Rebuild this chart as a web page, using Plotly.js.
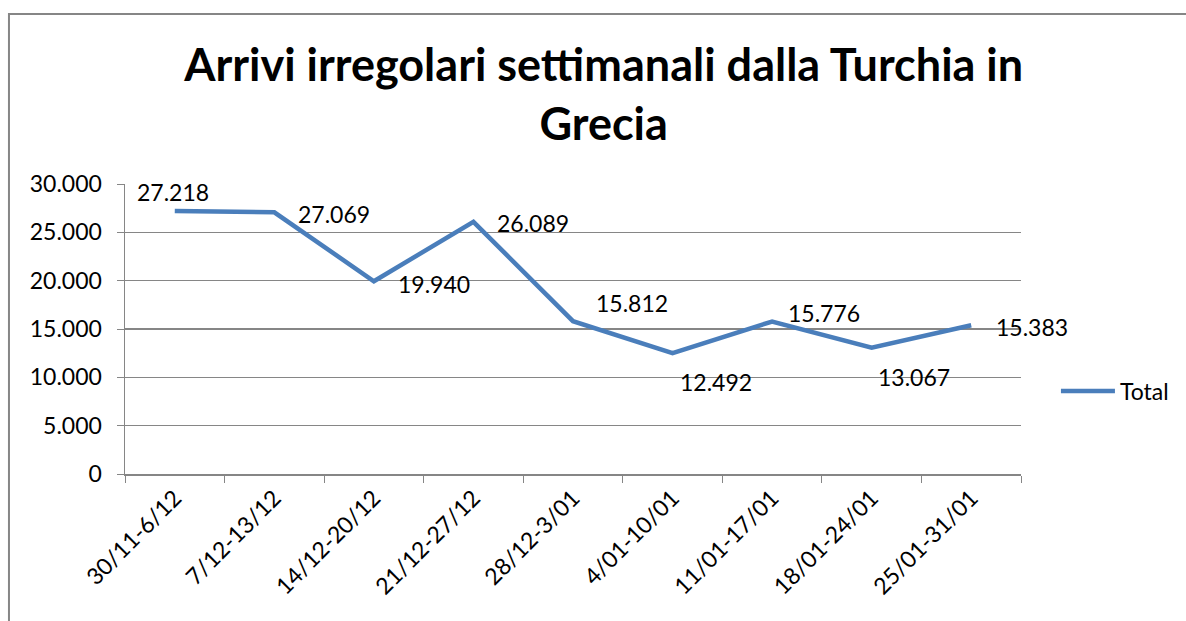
<!DOCTYPE html>
<html>
<head>
<meta charset="utf-8">
<script src="https://cdn.plot.ly/plotly-3.0.1.min.js"></script>
<style>
  html, body { margin: 0; padding: 0; background: #fff; }
  #chart { width: 1186px; height: 621px; }
</style>
</head>
<body>
<div id="chart"></div>
<script>
// weekly irregular arrivals Turkey -> Greece
const weeks = [
    "30/11-6/12", "7/12-13/12", "14/12-20/12", "21/12-27/12", "28/12-3/01",
    "4/01-10/01", "11/01-17/01", "18/01-24/01", "25/01-31/01",
];
const arrivals = [27218, 27069, 19940, 26089, 15812, 12492, 15776, 13067, 15383];

// where each data label sits relative to its point, in px (right, up)
const labelShiftX = [-2, 60, 60, 60, 59, 43, 52, 42, 61];
const labelShiftY = [19, -2, -3, -1, 18, -29, 9, -29, -2];

const font = "Lato, 'Open Sans', sans-serif";
const gridColor = "#868686";

function fmt(v) {
    return String(v).replace(/\B(?=(\d{3})+(?!\d))/g, ".");
}

let trace = {
    type: "scatter",
    mode: "lines",
    name: "Total",
    x: weeks,
    y: arrivals,
    line: { color: "#4A7EBB", width: 4.5 },
    hoverinfo: "x+y",
};

let annotations = arrivals.map((v, i) => ({
    x: weeks[i],
    y: v,
    xref: "x",
    yref: "y",
    text: fmt(v),
    showarrow: false,
    xanchor: "center",
    yanchor: "middle",
    xshift: labelShiftX[i],
    yshift: labelShiftY[i],
    font: { family: font, size: 23, color: "#000" },
}));

let layout = {
    width: 1186,
    height: 621,
    margin: { l: 125, r: 165, t: 184, b: 147, autoexpand: false },
    paper_bgcolor: "#fff",
    plot_bgcolor: "#fff",
    separators: ",.",
    font: { family: font, size: 23, color: "#000" },
    title: {
        text: "<b>Arrivi irregolari settimanali dalla Turchia in<br>Grecia</b>",
        font: { family: font, size: 45, color: "#000" },
        x: 0.509,
        xanchor: "center",
        y: 0.869,
        yanchor: "middle",
    },
    showlegend: true,
    legend: {
        x: 1.039,
        y: 0.286,
        xanchor: "left",
        yanchor: "middle",
        itemwidth: 54,
        font: { family: font, size: 23 },
        bgcolor: "rgba(0,0,0,0)",
    },
    xaxis: {
        type: "category",
        range: [-0.5, 8.5],
        tickson: "boundaries",
        ticks: "outside",
        ticklen: 7,
        tickcolor: gridColor,
        showgrid: false,
        showline: true,
        linecolor: gridColor,
        linewidth: 1.5,
        tickangle: -45,
        tickfont: { family: font, size: 23 },
        fixedrange: true,
    },
    yaxis: {
        range: [0, 30000],
        dtick: 5000,
        tickformat: ",d",
        ticks: "outside",
        ticklen: 7,
        ticklabelstandoff: 10,
        tickcolor: gridColor,
        showgrid: true,
        gridcolor: gridColor,
        gridwidth: 1.2,
        showline: true,
        linecolor: gridColor,
        linewidth: 1.5,
        zeroline: false,
        tickfont: { family: font, size: 23 },
        fixedrange: true,
    },
    annotations: annotations,
    shapes: [
        // chart area frame (left + top edges are visible)
        {
            type: "rect",
            xref: "paper",
            yref: "paper",
            x0: -0.1295, x1: 1.4,
            y0: -1, y1: 1.586,
            line: { color: gridColor, width: 2 },
            layer: "below",
        },
    ],
};

Plotly.newPlot("chart", [trace], layout, { displayModeBar: false, staticPlot: true });
</script>
</body>
</html>
